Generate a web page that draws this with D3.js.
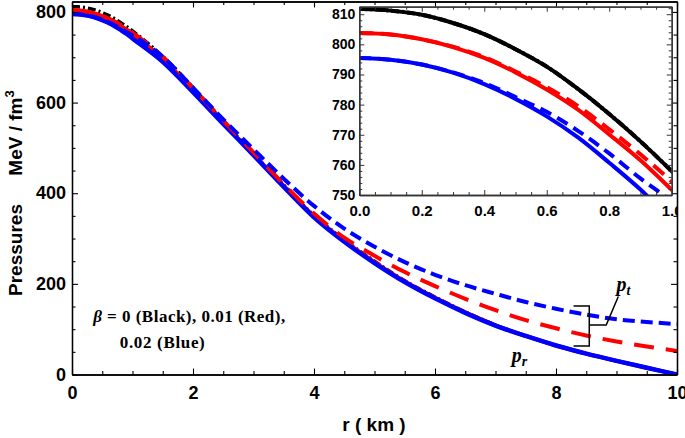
<!DOCTYPE html>
<html><head><meta charset="utf-8">
<script src="https://cdn.jsdelivr.net/npm/d3@7"></script>
<style>
body{margin:0;background:#fff;}
svg{display:block;}
text{font-family:"Liberation Sans",Arial,sans-serif;font-weight:bold;fill:#000;}
</style></head><body>
<svg id="chart" width="685" height="438"></svg>
<script>
// ---- data ----
const r = [0,0.1,0.2,0.3,0.4,0.5,0.6,0.7,0.8,0.9,1,1.5,2,2.5,3,3.5,4,4.5,5,5.5,6,6.5,7,7.5,8,8.5,9,9.5,10];
const blackPr = [811.8,811.2,809.8,807.1,803.4,798.4,792.6,785.2,776.9,767.8,757.9,702,633,558,487,418,351,297,250,207,171,138,109,85,64,46,30,15,0];
const blackPt = [811.8,811.2,809.8,807.1,803.4,798.4,792.6,785.2,776.9,767.8,757.9,702,633,558,487,418,351,297,250,207,171,138,109,85,64,46,30,15,0];
const redPr   = [803.8,803.3,801.7,799.1,795.5,790.7,785.0,778.3,770.1,761.5,751.7,696,628,555,485,416,349,295,248,205.5,169.5,137,108.5,85,64,46,30,15,0];
const redPt   = [803.8,803.3,801.7,799.2,795.8,791.0,785.8,779.5,771.8,763.5,754.5,701,632,560,490,420,355,302,262,226,195,167,142,120,102,86,73,62,52];
const bluePr  = [795.5,794.9,793.3,790.6,786.8,781.9,776.1,769.1,760.7,751.8,741.5,690,623,553,484,414,347,293,246,204,168,136,108,85,64,46,30,15,0];
const bluePt  = [795.5,794.9,793.3,790.7,787.2,782.5,777.6,771.3,763.8,755.5,748.0,701,633,563,497,432,372,322,282,248,220,197,178,160,145,132,122,116,111];

const xTicks = [0,2,4,6,8,10];
const yTicks = [0,200,400,600,800];
const insetXTicks = [0,0.2,0.4,0.6,0.8,1.0];
const insetYTicks = [750,760,770,780,790,800,810];
const legendLine1 = " = 0 (Black), 0.01 (Red),";
const legendLine2 = "0.02 (Blue)";

// ---- styles (drawing order) ----
const series = [
  {v: blackPt, color:"#000000", w:3.5, dash:"8,3,2,3"},
  {v: redPr,   color:"#ff0000", w:4,   dash:null},
  {v: bluePr,  color:"#0000ff", w:4.5, dash:null},
  {v: redPt,   color:"#ff0000", w:4,   dash:"20,12"},
  {v: bluePt,  color:"#0000ff", w:4,   dash:"12,6"}
];
const insetSeries = [
  {v: bluePr,  color:"#0000ff", w:4,   dash:null},
  {v: bluePt,  color:"#0000ff", w:4,   dash:"12,7"},
  {v: redPr,   color:"#ff0000", w:4,   dash:null},
  {v: redPt,   color:"#ff0000", w:4,   dash:"14,8"},
  {v: blackPr, color:"#000000", w:4,   dash:null},
  {v: blackPt, color:"#000000", w:4,   dash:"8,3,2,3"}
];

const svg = d3.select("#chart");
const x = d3.scaleLinear().domain([0,10]).range([72,677]);
const y = d3.scaleLinear().domain([0,823]).range([374.5,1.5]);

const defs = svg.append("defs");
defs.append("clipPath").attr("id","mainClip").append("rect")
  .attr("x",x(0)).attr("y",y(823)).attr("width",x(10)-x(0)).attr("height",y(0)-y(823));

// curves
const gMain = svg.append("g").attr("clip-path","url(#mainClip)");
const lineMain = d3.line().x((d,i)=>x(r[i])).y(d=>y(d)).curve(d3.curveMonotoneX);
series.forEach(s=>{
  gMain.append("path").attr("d",lineMain(s.v)).attr("fill","none")
    .attr("stroke",s.color).attr("stroke-width",s.w)
    .attr("stroke-dasharray",s.dash);
});

// axes
function styleAxis(g){
  g.selectAll("path.domain").attr("stroke","#000").attr("stroke-width",1.3);
  g.selectAll(".tick line").attr("stroke","#000").attr("stroke-width",1.1);
}
const xMinor = d3.range(0,10.001,0.5).filter(v=>v%2!==0);
const yMinor = d3.range(0,823,50).filter(v=>v%200!==0);

const gx = svg.append("g").attr("transform",`translate(0,${y(0)})`)
  .call(d3.axisBottom(x).tickValues(xTicks).tickSize(-6).tickSizeOuter(0).tickPadding(12).tickFormat(d3.format("d")));
gx.selectAll("text").style("font-size","18px");
styleAxis(gx);
styleAxis(svg.append("g").attr("transform",`translate(0,${y(0)})`)
  .call(d3.axisBottom(x).tickValues(xMinor).tickSize(-3.5).tickSizeOuter(0).tickFormat("")));

const gy = svg.append("g").attr("transform",`translate(${x(0)},0)`)
  .call(d3.axisLeft(y).tickValues(yTicks).tickSize(-6).tickSizeOuter(0).tickPadding(6).tickFormat(d3.format("d")));
gy.selectAll("text").style("font-size","18px");
styleAxis(gy);
styleAxis(svg.append("g").attr("transform",`translate(${x(0)},0)`)
  .call(d3.axisLeft(y).tickValues(yMinor).tickSize(-3.5).tickSizeOuter(0).tickFormat("")));

styleAxis(svg.append("g").attr("transform",`translate(0,${y(823)})`)
  .call(d3.axisTop(x).tickValues(xTicks).tickSize(-6).tickSizeOuter(0).tickFormat("")));
styleAxis(svg.append("g").attr("transform",`translate(0,${y(823)})`)
  .call(d3.axisTop(x).tickValues(xMinor).tickSize(-3.5).tickSizeOuter(0).tickFormat("")));
styleAxis(svg.append("g").attr("transform",`translate(${x(10)},0)`)
  .call(d3.axisRight(y).tickValues(yTicks).tickSize(-6).tickSizeOuter(0).tickFormat("")));
styleAxis(svg.append("g").attr("transform",`translate(${x(10)},0)`)
  .call(d3.axisRight(y).tickValues(yMinor).tickSize(-3.5).tickSizeOuter(0).tickFormat("")));

// axis titles
svg.append("text").attr("x",374).attr("y",431).attr("text-anchor","middle")
  .style("font-size","19px").text("r ( km )");
svg.append("text").attr("transform","translate(22,250) rotate(-90)").attr("text-anchor","middle")
  .style("font-size","19px").text("Pressures");
const yl = svg.append("text").attr("transform","translate(22,133) rotate(-90)").attr("text-anchor","middle")
  .style("font-size","19px");
yl.append("tspan").text("MeV / fm");
yl.append("tspan").attr("dy",-8).style("font-size","13px").text("3");

// legend text
const serif = "'Liberation Serif','Times New Roman',serif";
const leg = svg.append("text").attr("x",x(0.35)).attr("y",y(115))
  .style("font-family",serif).style("font-size","17px")
  .attr("textLength",192).attr("lengthAdjust","spacing");
leg.append("tspan").style("font-style","italic").text("β");
leg.append("tspan").text(legendLine1);
svg.append("text").attr("x",x(0.79)).attr("y",y(58.5))
  .style("font-family",serif).style("font-size","17px")
  .attr("textLength",85).attr("lengthAdjust","spacing").text(legendLine2);

// p_t / p_r labels and bracket
function pLabel(rx, vy, sub){
  const t = svg.append("text").attr("x",x(rx)).attr("y",y(vy))
    .style("font-family",serif).style("font-style","italic").style("font-size","20px");
  t.append("tspan").text("p");
  t.append("tspan").attr("dy",4).style("font-size","14px").text(sub);
}
pLabel(9.0,184,"t");
pLabel(7.27,27.6,"r");

const br = d3.path();
br.moveTo(x(8.29),y(151)); br.lineTo(x(8.55),y(151)); br.lineTo(x(8.55),y(63)); br.lineTo(x(8.29),y(63));
br.moveTo(x(8.55),y(109)); br.lineTo(x(8.83),y(109)); br.lineTo(x(9.03),y(172));
svg.append("path").attr("d",br.toString()).attr("fill","none").attr("stroke","#000").attr("stroke-width",1.5);

// ---- inset ----
const xi = d3.scaleLinear().domain([0,1]).range([359.3,671.7]);
const yi = d3.scaleLinear().domain([750,812.5]).range([195,6.7]);
defs.append("clipPath").attr("id","insetClip").append("rect")
  .attr("x",xi(0)).attr("y",yi(812.5)).attr("width",xi(1)-xi(0)).attr("height",yi(750)-yi(812.5));
defs.append("clipPath").attr("id","insetOuter").append("rect")
  .attr("x",0).attr("y",0).attr("width",x(10)).attr("height",438);

const gIn = svg.append("g").attr("clip-path","url(#insetOuter)");
gIn.append("rect").attr("x",xi(0)).attr("y",yi(812.5)).attr("width",xi(1)-xi(0)).attr("height",yi(750)-yi(812.5))
  .attr("fill","#fff");
const gInC = gIn.append("g").attr("clip-path","url(#insetClip)");
const lineIn = d3.line().x((d,i)=>xi(r[i])).y(d=>yi(d)).curve(d3.curveMonotoneX);
insetSeries.forEach(s=>{
  gInC.append("path").attr("d",lineIn(s.v.slice(0,12))).attr("fill","none")
    .attr("stroke",s.color).attr("stroke-width",s.w)
    .attr("stroke-dasharray",s.dash);
});
function styleIn(g){
  g.selectAll("path.domain").attr("stroke","#333").attr("stroke-width",1.3);
  g.selectAll(".tick line").attr("stroke","#333").attr("stroke-width",1);
}
const xiMinor = d3.range(0,1.0001,0.05).filter(v=>Math.abs(v*5-Math.round(v*5))>1e-6);
const yiMinor = d3.range(750,812.5,2).filter(v=>v%10!==0);
const gix = gIn.append("g").attr("transform",`translate(0,${yi(750)})`)
  .call(d3.axisBottom(xi).tickValues(insetXTicks).tickSize(-5).tickSizeOuter(0).tickPadding(10).tickFormat(d3.format(".1f")));
gix.selectAll("text").style("font-size","15px");
styleIn(gix);
styleIn(gIn.append("g").attr("transform",`translate(0,${yi(750)})`)
  .call(d3.axisBottom(xi).tickValues(xiMinor).tickSize(-3).tickSizeOuter(0).tickFormat("")));
const giy = gIn.append("g").attr("transform",`translate(${xi(0)},0)`)
  .call(d3.axisLeft(yi).tickValues(insetYTicks).tickSize(-5).tickSizeOuter(0).tickPadding(4).tickFormat(d3.format("d")));
giy.selectAll("text").style("font-size","14px");
styleIn(giy);
styleIn(gIn.append("g").attr("transform",`translate(${xi(0)},0)`)
  .call(d3.axisLeft(yi).tickValues(yiMinor).tickSize(-3).tickSizeOuter(0).tickFormat("")));
styleIn(gIn.append("g").attr("transform",`translate(0,${yi(812.5)})`)
  .call(d3.axisTop(xi).tickValues(insetXTicks).tickSize(-5).tickSizeOuter(0).tickFormat("")));
styleIn(gIn.append("g").attr("transform",`translate(0,${yi(812.5)})`)
  .call(d3.axisTop(xi).tickValues(xiMinor).tickSize(-3).tickSizeOuter(0).tickFormat("")));
styleIn(gIn.append("g").attr("transform",`translate(${xi(1)},0)`)
  .call(d3.axisRight(yi).tickValues(insetYTicks).tickSize(-5).tickSizeOuter(0).tickFormat("")));
styleIn(gIn.append("g").attr("transform",`translate(${xi(1)},0)`)
  .call(d3.axisRight(yi).tickValues(yiMinor).tickSize(-3).tickSizeOuter(0).tickFormat("")));
</script>
</body></html>
